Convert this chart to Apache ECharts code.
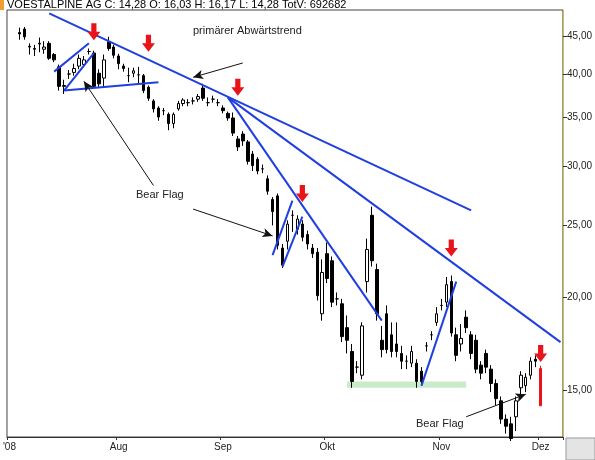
<!DOCTYPE html>
<html><head><meta charset="utf-8">
<script src="https://cdn.jsdelivr.net/npm/echarts@6/dist/echarts.min.js"></script>
<style>html,body{margin:0;padding:0;background:#fff}#c{width:595px;height:460px}</style>
</head><body><div id="c"></div>
<script>
// OHLC as [open, close, low, high]
const ohlc = [
[45.5,45.3,44.5,46.2],[46.0,44.9,44.5,46.3],[43.6,43.5,42.5,44.0],[43.3,43.2,42.3,43.8],[44.0,43.9,42.8,44.8],
[43.2,43.5,42.6,44.3],[44.0,42.0,41.8,44.3],[42.5,41.8,41.5,42.7],[40.9,38.5,38.0,41.2],[38.6,38.5,37.6,39.3],
[40.0,40.0,39.4,40.5],[40.2,40.7,39.8,41.3],[41.0,42.0,40.6,42.5],[41.2,41.8,41.0,42.3],[42.9,42.9,42.5,43.3],
[42.7,38.5,38.3,43.0],[40.1,38.8,38.3,40.6],[39.5,41.8,38.5,42.5],[44.2,43.3,43.0,44.9],[43.5,42.4,42.0,43.8],
[42.3,41.3,40.6,42.6],[41.0,40.7,40.3,41.3],[39.8,39.8,39.0,40.8],[40.1,40.4,39.6,40.8],[39.9,39.9,38.8,40.9],
[39.8,38.0,37.7,40.0],[38.4,37.1,36.8,38.6],[36.8,35.9,35.5,37.0],[36.0,35.0,34.6,36.2],[35.7,35.7,35.2,36.0],
[35.3,34.3,33.6,35.5],[34.3,35.3,33.8,35.5],[35.9,36.5,35.7,36.8],[36.5,36.9,36.2,37.1],[36.6,36.6,36.2,37.0],
[36.8,36.8,36.4,37.2],[37.0,37.3,36.7,37.6],[38.3,37.1,36.8,38.8],[36.6,36.6,36.2,37.2],[37.0,37.0,36.6,37.4],
[36.6,36.6,36.2,37.0],[36.0,35.7,35.4,36.3],[35.4,34.9,34.6,35.6],[34.9,33.3,33.0,35.5],[32.7,31.9,31.5,33.0],
[33.2,32.5,32.0,33.5],[32.4,30.5,30.2,32.6],[31.2,30.1,29.6,31.5],[30.7,29.6,29.3,30.9],[29.8,29.8,29.4,30.2],
[28.9,27.8,27.5,29.2],[27.1,26.1,25.0,27.3],[27.4,23.5,23.2,27.6],[23.3,22.1,21.9,23.6],[23.8,25.1,23.2,25.4],
[25.8,25.8,24.5,26.2],[24.7,25.5,24.3,25.8],[25.1,24.1,23.8,25.4],[24.3,23.6,23.2,24.6],[23.3,22.9,22.6,23.6],
[23.0,20.1,19.8,23.3],[19.0,21.6,18.6,22.5],[22.9,21.2,20.9,23.7],[22.4,19.7,19.4,22.7],[19.9,19.9,19.5,20.3],
[19.6,17.7,17.4,19.9],[18.2,17.5,16.8,18.9],[16.9,15.4,15.1,17.3],[16.1,16.1,15.8,16.4],[15.7,18.3,15.5,18.5],
[21.0,23.2,20.3,24.0],[25.8,22.4,22.0,26.5],[21.8,19.0,18.6,22.2],[17.5,17.0,16.6,18.3],[19.0,17.0,16.8,19.5],
[17.8,16.9,16.6,18.5],[17.3,16.9,16.6,18.5],[16.8,16.4,16.0,17.2],[16.4,16.4,16.0,16.7],[16.3,16.9,16.1,17.2],
[16.3,15.4,15.1,16.5],[15.9,15.4,15.2,16.1],[17.2,17.2,16.9,17.4],[17.8,17.8,17.5,18.0],[18.5,19.0,18.3,19.4],
[19.5,19.5,19.2,19.9],[19.7,20.8,19.4,21.3],[21.0,17.9,17.7,21.4],[17.8,16.7,16.4,18.2],[17.3,17.6,16.9,18.4],
[18.8,18.2,17.9,19.2],[17.8,16.8,16.5,18.0],[17.5,16.0,15.8,17.8],[16.2,15.8,15.5,16.4],[16.8,16.1,15.8,17.0],
[16.0,15.3,14.9,16.2],[15.3,14.6,14.3,15.5],[14.5,13.7,13.5,14.7],[13.7,13.4,13.1,13.9],[13.5,12.9,12.8,13.8],
[13.8,14.5,13.2,14.7],[15.1,15.7,14.8,15.9],[15.2,15.6,14.9,15.8],[15.7,16.4,15.5,16.6],[16.5,16.4,16.1,16.7]
];
const lastDay = [16.03,14.28,14.28,16.17];
const leadEmpty = 2, trailEmpty = 4;
const labelIdx = [0,22,43,64,87,107];
const labelText = ["'08","Aug","Sep","Okt","Nov","Dez"];
const yTicks = [15,20,25,30,35,40,45];
// annotation lines [[idx,price],[idx,price]]
const trendLines = [
 [[8.0,48.3],[92.8,26.2]],
 [[43.5,37.2],[111.2,17.4]],
 [[43.5,37.2],[74.5,18.6]],
 [[9.4,40.3],[15.8,44.0]],
 [[10.6,38.0],[17.4,42.7]],
 [[10.6,38.0],[29.5,39.0]],
 [[53.1,22.8],[57.0,27.0]],
 [[55.1,22.0],[59.4,25.7]],
 [[82.8,15.2],[90.2,21.0]]
];
const pointerLines = [
 [[47.1,41.4],[37.2,39.6]],
 [[28.9,28.3],[15.0,39.1]],
 [[36.8,26.3],[52.7,24.2]],
 [[92.2,13.8],[104.3,14.8]]
];
const arrows = [[17.4,45.6],[27.9,44.0],[45.5,38.4],[59.0,27.6],[89.2,23.3],[106.6,16.8]];
const supportZone = [[68.0,15.4],[91.8,15.1]];

const n = leadEmpty + ohlc.length + 1 + trailEmpty;
const cats = Array.from({length:n},(_,i)=>String(i));
const data = [];
for (let i=0;i<leadEmpty;i++) data.push('-');
ohlc.forEach(d=>data.push(d));
data.push({value:lastDay,itemStyle:{color:'#e8141a',color0:'#e8141a',borderColor:'#e8141a',borderColor0:'#e8141a'}});
for (let i=0;i<trailEmpty;i++) data.push('-');
const lbl = {}; labelIdx.forEach((k,j)=>lbl[k]=labelText[j]);

const chart = echarts.init(document.getElementById('c'));
chart.setOption({
 animation:false,
 backgroundColor:'#fff',
 grid:{left:1,right:29,top:10,bottom:23,show:true,borderColor:'#444',borderWidth:1},
 xAxis:{type:'category',data:cats,boundaryGap:true,
   axisLine:{lineStyle:{color:'#333'}},
   axisTick:{show:true,interval:(i)=>lbl[i]!==undefined,length:3,lineStyle:{color:'#333'}},
   axisLabel:{interval:(i)=>lbl[i]!==undefined,formatter:(v,i)=>lbl[i]||'',color:'#222',fontSize:10,fontFamily:'Liberation Sans',margin:5},
   splitLine:{show:false}},
 yAxis:{type:'log',position:'right',min:12.96,max:48.8,
   axisLine:{show:true,lineStyle:{color:'#d8c040',type:'dotted',width:1}},
   axisTick:{show:true,customValues:yTicks,length:4,lineStyle:{color:'#333'}},
   axisLabel:{customValues:yTicks,formatter:v=>Number(v).toFixed(2).replace('.',','),color:'#222',fontSize:10,fontFamily:'Liberation Sans',margin:4},
   splitLine:{show:false}},
 series:[
  {type:'candlestick',data:data,barWidth:3,
   itemStyle:{color:'#fff',color0:'#000',borderColor:'#000',borderColor0:'#000',borderWidth:1},
   markArea:{silent:true,itemStyle:{color:'rgba(150,215,150,0.5)'},
     data:[[{coord:[supportZone[0][0],supportZone[0][1]]},{coord:[supportZone[1][0],supportZone[1][1]]}]]},
   markLine:{silent:true,symbol:['none','none'],label:{show:false},
     lineStyle:{color:'#1f3fe0',width:2,type:'solid'},
     data:trendLines.map(l=>[{coord:l[0]},{coord:l[1]}]).concat(
       pointerLines.map(l=>[{coord:l[0],symbol:'none'},{coord:l[1],symbol:'arrow',symbolSize:[7,10],lineStyle:{color:'#111',width:1}}]))}
  },
  {type:'scatter',data:arrows,symbol:'path://M3,0 L7,0 L7,6 L10,6 L5,12 L0,6 L3,6 Z',symbolSize:[13,17],
   itemStyle:{color:'#e8141a',opacity:1},z:5,silent:true}
 ],
 graphic:[
  {type:'text',left:7,top:-1,style:{text:'VOESTALPINE AG C: 14,28 O: 16,03 H: 16,17 L: 14,28 TotV: 692682',fontSize:11,fontFamily:'Liberation Sans',fill:'#000'}},
  {type:'rect',shape:{x:0,y:0,width:4,height:10},style:{fill:'#f0a030'}},
  {type:'text',left:193,top:25,style:{text:'primärer Abwärtstrend',fontSize:11,fontFamily:'Liberation Sans',fill:'#222'}},
  {type:'text',left:136,top:189,style:{text:'Bear Flag',fontSize:11,fontFamily:'Liberation Sans',fill:'#222'}},
  {type:'text',left:416,top:418,style:{text:'Bear Flag',fontSize:11,fontFamily:'Liberation Sans',fill:'#222'}},
  {type:'rect',shape:{x:566,y:438,width:29,height:22},style:{fill:'#e4e4e4',stroke:'#999'}}
 ]
});
</script></body></html>
